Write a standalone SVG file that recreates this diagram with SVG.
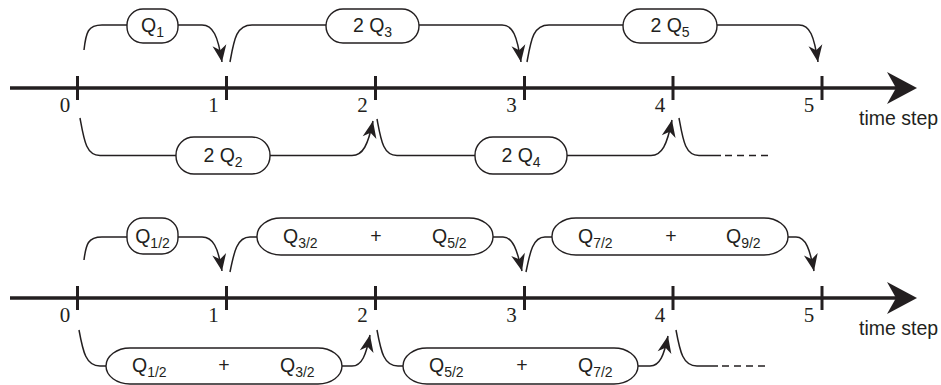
<svg xmlns="http://www.w3.org/2000/svg" width="941" height="385" viewBox="0 0 941 385">
<style>
.conn{fill:none;stroke:#231f20;stroke-width:1.5}
.dash{fill:none;stroke:#231f20;stroke-width:1.5;stroke-dasharray:7 5}
.node rect{fill:#fff;stroke:#231f20;stroke-width:1.4}
.lbl{font-family:"Liberation Sans",Arial,sans-serif;font-size:19.5px;fill:#231f20}
.sub{font-size:14px}
.axis{stroke:#231f20;stroke-width:3.5}
.tick{stroke:#231f20;stroke-width:3}
.num{font-family:"Liberation Serif","Times New Roman",serif;font-size:21px;fill:#231f20;text-anchor:middle}
.ts{font-family:"Liberation Sans",Arial,sans-serif;font-size:19.5px;fill:#231f20}
</style>
<defs>
<marker id="ah" markerUnits="userSpaceOnUse" viewBox="-18 -8 19 16" markerWidth="19" markerHeight="16" refX="0" refY="0" orient="auto">
<path d="M0,0 L-17,-7 L-12,0 L-17,7 Z" fill="#231f20"/>
</marker>
</defs>
<g id="axis1">
<line class="axis" x1="10" y1="88" x2="898" y2="88"/>
<path d="M917,88 L887,72 L896,88 L887,104 Z" fill="#231f20"/>
<line class="tick" x1="77.5" y1="76" x2="77.5" y2="100"/>
<line class="tick" x1="226.5" y1="76" x2="226.5" y2="100"/>
<line class="tick" x1="375.5" y1="76" x2="375.5" y2="100"/>
<line class="tick" x1="524.5" y1="76" x2="524.5" y2="100"/>
<line class="tick" x1="673" y1="76" x2="673" y2="100"/>
<line class="tick" x1="822" y1="76" x2="822" y2="100"/>
<text class="num" x="65" y="112">0</text>
<text class="num" x="213.5" y="112">1</text>
<text class="num" x="362.5" y="112">2</text>
<text class="num" x="511.5" y="112">3</text>
<text class="num" x="660" y="112">4</text>
<text class="num" x="809" y="112">5</text>
<text class="ts" x="859" y="125">time step</text>
</g>
<g id="axis2">
<line class="axis" x1="10" y1="298" x2="898" y2="298"/>
<path d="M917,298 L887,282 L896,298 L887,314 Z" fill="#231f20"/>
<line class="tick" x1="77.5" y1="286" x2="77.5" y2="310"/>
<line class="tick" x1="226.5" y1="286" x2="226.5" y2="310"/>
<line class="tick" x1="375.5" y1="286" x2="375.5" y2="310"/>
<line class="tick" x1="524.5" y1="286" x2="524.5" y2="310"/>
<line class="tick" x1="673" y1="286" x2="673" y2="310"/>
<line class="tick" x1="822" y1="286" x2="822" y2="310"/>
<text class="num" x="65" y="322">0</text>
<text class="num" x="213.5" y="322">1</text>
<text class="num" x="362.5" y="322">2</text>
<text class="num" x="511.5" y="322">3</text>
<text class="num" x="660" y="322">4</text>
<text class="num" x="809" y="322">5</text>
<text class="ts" x="859" y="335">time step</text>
</g>
<g id="connectors">
<path class="conn" d="M84,50 C86,32 88,25 102,25 L127,25"/>
<path class="conn" d="M178,25 L202,25 C213,25 218,36 222,62" marker-end="url(#ah)"/>
<path class="conn" d="M230,62 C234,40 236,25 252,25 L326,25"/>
<path class="conn" d="M419,25 L502,25 C513,25 517,36 521,62" marker-end="url(#ah)"/>
<path class="conn" d="M527,62 C531,40 533,25 549,25 L623,25"/>
<path class="conn" d="M717,25 L799,25 C810,25 814,36 818,62" marker-end="url(#ah)"/>
<path class="conn" d="M80,118 C84,140 86,155.5 100,155.5 L176,155.5"/>
<path class="conn" d="M270,155.5 L352,155.5 C363,155.5 368,145 373,121" marker-end="url(#ah)"/>
<path class="conn" d="M377,119 C381,140 383,155.5 397,155.5 L475,155.5"/>
<path class="conn" d="M567,155.5 L651,155.5 C662,155.5 667,145 672,120" marker-end="url(#ah)"/>
<path class="conn" d="M679,118 C683,140 685,155.5 699,155.5 L721,155.5"/>
<path class="dash" d="M725,155.5 L768,155.5"/>
<path class="conn" d="M84,260 C86,244 88,237 102,237 L127,237"/>
<path class="conn" d="M178,237 L202,237 C213,237 218,247 222,271" marker-end="url(#ah)"/>
<path class="conn" d="M230,272 C234,252 237,237 250,237 L257,237"/>
<path class="conn" d="M493,237 L503,237 C513,237 517,250 522,271" marker-end="url(#ah)"/>
<path class="conn" d="M526,272 C530,252 533,237 545,237 L552,237"/>
<path class="conn" d="M788,237 L796,237 C806,237 810,250 814,271" marker-end="url(#ah)"/>
<path class="conn" d="M79,330 C83,352 86,366 100,366 L106,366"/>
<path class="conn" d="M342,366 L352,366 C362,366 366,355 370,335" marker-end="url(#ah)"/>
<path class="conn" d="M377,330 C381,352 384,366 398,366 L403,366"/>
<path class="conn" d="M638,366 L650,366 C660,366 664,355 668,336" marker-end="url(#ah)"/>
<path class="conn" d="M676,330 C680,352 683,366 697,366 L718,366"/>
<path class="dash" d="M722,366 L766,366"/>
</g>
<g id="n_q1" class="node"><rect x="127" y="9" width="51" height="34" rx="16" ry="16"/><text class="lbl" x="152.5" y="32" text-anchor="middle">Q<tspan class="sub" dy="5">1</tspan></text></g>
<g id="n_2q3" class="node"><rect x="326" y="9" width="93" height="34" rx="17" ry="17"/><text class="lbl" x="372.5" y="32" text-anchor="middle">2 Q<tspan class="sub" dy="5">3</tspan></text></g>
<g id="n_2q5" class="node"><rect x="623" y="9" width="94" height="34" rx="17" ry="17"/><text class="lbl" x="670" y="32" text-anchor="middle">2 Q<tspan class="sub" dy="5">5</tspan></text></g>
<g id="n_2q2" class="node"><rect x="176" y="137" width="94" height="37" rx="18" ry="18"/><text class="lbl" x="223" y="162" text-anchor="middle">2 Q<tspan class="sub" dy="5">2</tspan></text></g>
<g id="n_2q4" class="node"><rect x="475" y="137" width="92" height="37" rx="18" ry="18"/><text class="lbl" x="521" y="162" text-anchor="middle">2 Q<tspan class="sub" dy="5">4</tspan></text></g>
<g id="n_q12" class="node"><rect x="127" y="218" width="51" height="36" rx="16" ry="16"/><text class="lbl" x="152.5" y="243" text-anchor="middle">Q<tspan class="sub" dy="5">1/2</tspan></text></g>
<g id="n_q32_q52" class="node"><rect x="257" y="218" width="236" height="37" rx="24" ry="18"/><text class="lbl" x="283" y="243">Q<tspan class="sub" dy="5">3/2</tspan></text><text class="lbl" x="376" y="243" text-anchor="middle">+</text><text class="lbl" x="432" y="243">Q<tspan class="sub" dy="5">5/2</tspan></text></g>
<g id="n_q72_q92" class="node"><rect x="552" y="218" width="236" height="37" rx="24" ry="18"/><text class="lbl" x="578" y="243">Q<tspan class="sub" dy="5">7/2</tspan></text><text class="lbl" x="671" y="243" text-anchor="middle">+</text><text class="lbl" x="726" y="243">Q<tspan class="sub" dy="5">9/2</tspan></text></g>
<g id="n_q12_q32" class="node"><rect x="106" y="348" width="236" height="36" rx="24" ry="18"/><text class="lbl" x="132" y="372">Q<tspan class="sub" dy="5">1/2</tspan></text><text class="lbl" x="224" y="372" text-anchor="middle">+</text><text class="lbl" x="280" y="372">Q<tspan class="sub" dy="5">3/2</tspan></text></g>
<g id="n_q52_q72" class="node"><rect x="403" y="348" width="235" height="36" rx="24" ry="18"/><text class="lbl" x="429" y="372">Q<tspan class="sub" dy="5">5/2</tspan></text><text class="lbl" x="522" y="372" text-anchor="middle">+</text><text class="lbl" x="578" y="372">Q<tspan class="sub" dy="5">7/2</tspan></text></g>
</svg>
